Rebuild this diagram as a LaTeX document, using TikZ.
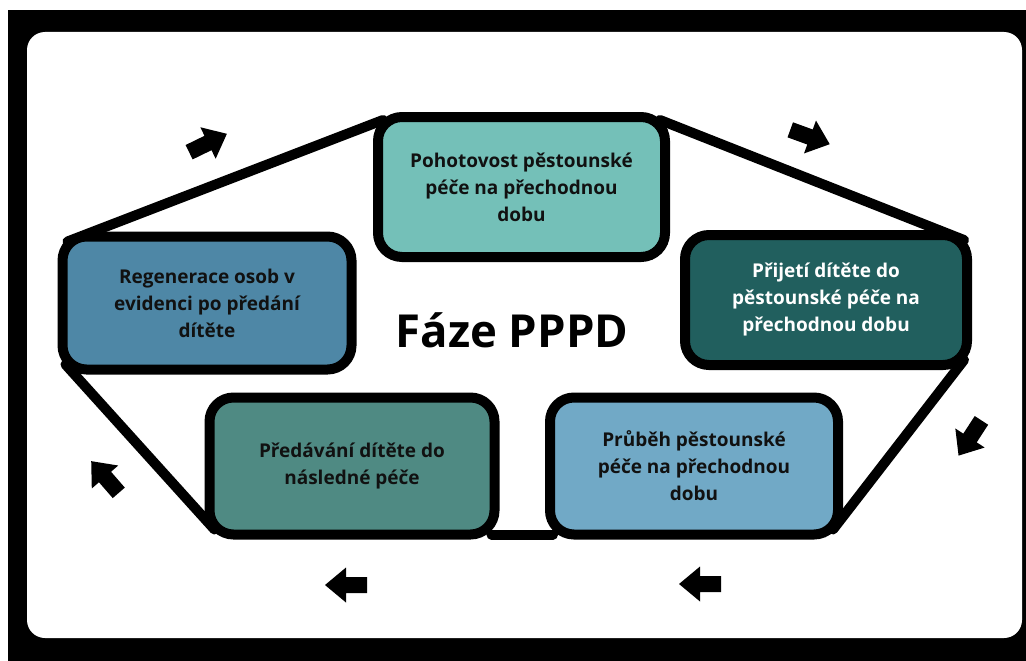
\documentclass[tikz,border=0pt]{standalone}
\usepackage{fontspec}
\setmainfont{Open Sans}
\usetikzlibrary{backgrounds}
\definecolor{cTop}{HTML}{74C0B8}
\definecolor{cRight}{HTML}{215F5E}
\definecolor{cBR}{HTML}{71A9C6}
\definecolor{cBL}{HTML}{4F8A83}
\definecolor{cLeft}{HTML}{4E87A6}
\definecolor{txt}{HTML}{111111}
\tikzset{
  phase/.style={draw=black, line width=10pt, rounded corners=24pt, align=center,
    inner sep=0pt, text=txt, font=\fontsize{19}{27}\selectfont\bfseries},
  ring/.style={line width=10pt, line cap=round, line join=round, black},
  blockarrow/.pic={\fill[black] (-21,-8) -- (0,-8) -- (0,-17.5) -- (21,0) -- (0,17.5) -- (0,8) -- (-21,8) -- cycle;}
}
\begin{document}
\begin{tikzpicture}[x=1pt,y=-1pt]
\useasboundingbox (0,0) rectangle (1026,661);
\begin{scope}[on background layer]
  \fill[white] (0,0) rectangle (1026,661);
  \fill[black] (8,10) rectangle (1026,661);
  \fill[white, rounded corners=18pt] (27,32) rectangle (1022,638);
\end{scope}

\node[phase, fill=cTop, minimum width=287pt, minimum height=140pt] (top) at (521.5,187)
  {Pohotovost pěstounské\\péče na přechodnou\\dobu};
\node[phase, fill=cRight, text=white, minimum width=282pt, minimum height=130pt] (right) at (826,300)
  {Přijetí dítěte do\\pěstounské péče na\\přechodnou dobu};
\node[phase, fill=cBR, minimum width=288pt, minimum height=137pt] (bright) at (694,466)
  {Průběh pěstounské\\péče na přechodnou\\dobu};
\node[phase, fill=cBL, minimum width=285pt, minimum height=137pt] (bleft) at (352,466)
  {Předávání dítěte do\\následné péče};
\node[phase, fill=cLeft, minimum width=289pt, minimum height=133pt] (left) at (207,303)
  {Regenerace osob v\\evidenci po předání\\dítěte};

\node[text=black, font=\fontsize{45.5}{52}\selectfont\bfseries] (title) at (512,330) {Fáze PPPD};

\begin{scope}[on background layer]
  \draw[ring] ([shift={(10,10)}]left.north west) -- ([shift={(10,8)}]top.north west);
  \draw[ring] ([shift={(-10,8)}]top.north east) -- ([shift={(-8,10)}]right.north east);
  \draw[ring] ([shift={(-8,-10)}]right.south east) -- ([shift={(-10,-10)}]bright.south east);
  \draw[ring] ([shift={(8,-5)}]bright.south west) -- ([shift={(-8,-5)}]bleft.south east);
  \draw[ring] ([shift={(10,-10)}]bleft.south west) -- ([shift={(8,-10)}]left.south west);
\end{scope}

\pic[rotate=26] at (208,143) {blockarrow};
\pic[rotate=-20] at (810,137) {blockarrow};
\pic[rotate=237] at (970,438) {blockarrow};
\pic[rotate=131] at (105,477) {blockarrow};
\pic[rotate=180] at (346,585) {blockarrow};
\pic[rotate=180] at (700,584) {blockarrow};
\end{tikzpicture}
\end{document}
